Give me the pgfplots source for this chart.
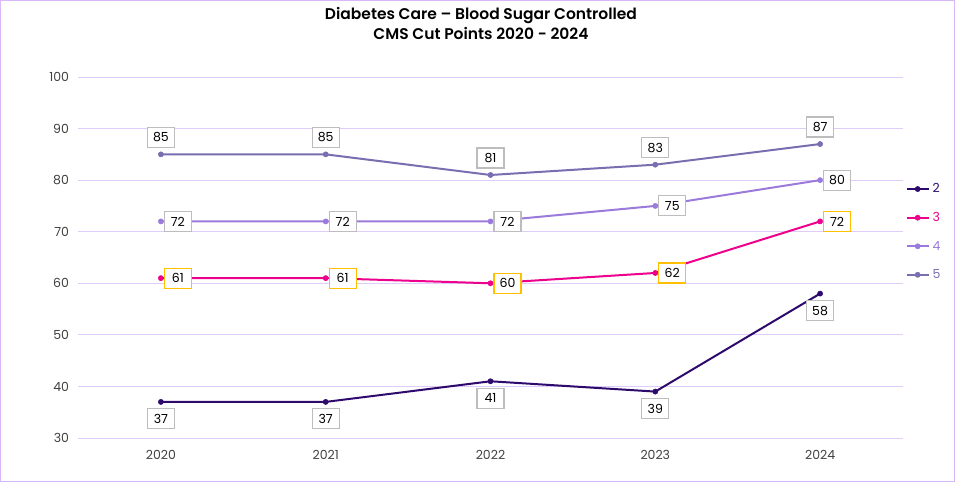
\documentclass[border=0pt]{standalone}
\usepackage{fontspec}
\setmainfont{Poppins}
\newfontfamily\titlefont{Poppins}[UprightFont=* SemiBold]
\usepackage{pgfplots}
\pgfplotsset{compat=1.18}
\definecolor{ctwo}{HTML}{2D0A6B}
\definecolor{cthree}{HTML}{EC008C}
\definecolor{cfour}{HTML}{9A7BDB}
\definecolor{cfive}{HTML}{7A6DB0}
\definecolor{gridc}{HTML}{E0CCFA}
\definecolor{framec}{HTML}{D9B8FA}
\definecolor{tickc}{HTML}{404040}
\definecolor{boxc}{HTML}{BDBDBD}
\definecolor{goldc}{HTML}{FFC000}
\tikzset{lbl/.style={font=\fontsize{12.5}{14}\selectfont, text=black, fill=white, draw=boxc, line width=1.1pt,
    inner xsep=4pt, inner ysep=3pt, minimum height=20pt, minimum width=27pt}}
\begin{document}
\begin{tikzpicture}
\begin{axis}[
  name=ax,
  width=824pt, height=361pt, scale only axis,
  xmin=-0.5, xmax=4.5, ymin=30, ymax=100,
  ytick={30,40,...,100},
  xtick={0,1,2,3,4},
  xticklabels={2020,2021,2022,2023,2024},
  axis line style={draw=none},
  major tick length=0pt,
  ymajorgrids, grid style={gridc, line width=1pt},
  tick label style={font=\fontsize{12.5}{14}\selectfont, text=tickc},
  /pgf/number format/assume math mode=true,
  yticklabel style={xshift=-6pt},
  xticklabel style={yshift=-9pt},
  clip=false,
  legend style={at={(1,0.571)}, anchor=west, draw=none, fill=none,
    font=\fontsize{12.5}{14}\selectfont, legend cell align=left,
    row sep=14pt, inner xsep=3pt, column sep=1pt},
  legend image code/.code={\draw[mark repeat=2, mark phase=2] plot coordinates {(0pt,0pt) (11pt,0pt) (22pt,0pt)};},
  every axis plot/.append style={line width=2pt, mark=*, mark size=2.6pt, mark options={line width=0.5pt}},
]
% lines
\addplot[ctwo] table {
x y
0 37
1 37
2 41
3 39
4 58
};
\addlegendentry{\textcolor{ctwo}{2}}
\addplot[cthree] table {
x y
0 61
1 61
2 60
3 62
4 72
};
\addlegendentry{\textcolor{cthree}{3}}
\addplot[cfour] table {
x y
0 72
1 72
2 72
3 75
4 80
};
\addlegendentry{\textcolor{cfour}{4}}
\addplot[cfive] table {
x y
0 85
1 85
2 81
3 83
4 87
};
\addlegendentry{\textcolor{cfive}{5}}
% data labels on top
\addplot[draw=none, mark=none, forget plot, nodes near coords, nodes near coords style={anchor=center},
  every node near coord/.append style={lbl, yshift=-17pt}] table {
x y
0 37
1 37
2 41
3 39
4 58
};
\addplot[draw=none, mark=none, forget plot, nodes near coords, nodes near coords style={anchor=center},
  every node near coord/.append style={lbl, draw=goldc, xshift=17pt}] table {
x y
0 61
1 61
2 60
3 62
4 72
};
\addplot[draw=none, mark=none, forget plot, nodes near coords, nodes near coords style={anchor=center},
  every node near coord/.append style={lbl, xshift=17pt}] table {
x y
0 72
1 72
2 72
3 75
4 80
};
\addplot[draw=none, mark=none, forget plot, nodes near coords, nodes near coords style={anchor=center},
  every node near coord/.append style={lbl, yshift=17pt}] table {
x y
0 85
1 85
2 81
3 83
4 87
};
\end{axis}
\begin{scope}[shift={(ax.south west)}, x=1pt, y=1pt]
\draw[framec, line width=1.5pt] (-77.75,-43.25) rectangle (875.75,437.25);
\node[font=\titlefont\fontsize{15.5}{19.5}\selectfont, align=center, text=black] at (402.5,414.5) {Diabetes Care – Blood Sugar Controlled\\CMS Cut Points 2020 - 2024};
\end{scope}
\end{tikzpicture}
\end{document}
